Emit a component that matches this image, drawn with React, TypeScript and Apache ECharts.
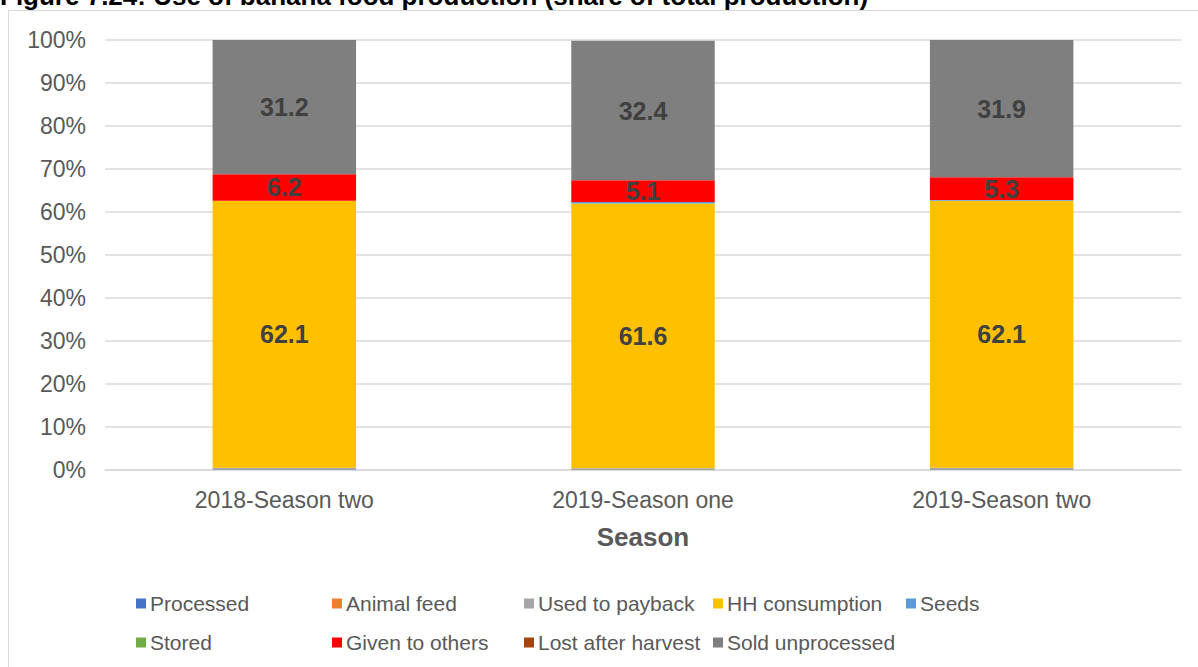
import React, { useEffect, useRef } from "react";
import * as echarts from "echarts";

const categories = ["2018-Season two", "2019-Season one", "2019-Season two"];
const seriesNames = [
  "Processed",
  "Animal feed",
  "Used to payback",
  "HH consumption",
  "Seeds",
  "Stored",
  "Given to others",
  "Lost after harvest",
  "Sold unprocessed",
];
const processed = [0, 0, 0];
const animalFeed = [0, 0, 0];
const usedToPayback = [0.5, 0.4, 0.5];
const hhConsumption = [62.1, 61.6, 62.1];
const seeds = [0, 0.3, 0.2];
const stored = [0, 0, 0];
const givenToOthers = [6.2, 5.1, 5.3];
const lostAfterHarvest = [0, 0, 0];
const soldUnprocessed = [31.2, 32.4, 31.9];
const yTicks = [0, 10, 20, 30, 40, 50, 60, 70, 80, 90, 100];

const seriesValues = [
  processed,
  animalFeed,
  usedToPayback,
  hhConsumption,
  seeds,
  stored,
  givenToOthers,
  lostAfterHarvest,
  soldUnprocessed,
];
const colors = [
  "#4472C4",
  "#ED7D31",
  "#A5A5A5",
  "#FFC000",
  "#5B9BD5",
  "#70AD47",
  "#FF0000",
  "#9E480E",
  "#7F7F7F",
];
const labelled = ["HH consumption", "Given to others", "Sold unprocessed"];

const legendLeft = [136, 332, 524, 713, 906];
const legendTop = [593, 632];

export default function App() {
  const ref = useRef<HTMLDivElement>(null);
  useEffect(() => {
    if (!ref.current) return;
    const chart = echarts.init(ref.current, null, { renderer: "svg" });
    const font = "Arial, 'Liberation Sans', sans-serif";
    const legends = seriesNames.map((name, i) => ({
      data: [name],
      left: legendLeft[i % 5],
      top: legendTop[Math.floor(i / 5)],
      orient: "horizontal",
      icon: "rect",
      itemWidth: 10,
      itemHeight: 10,
      itemGap: 0,
      selectedMode: false,
      padding: 0,
      textStyle: { color: "#595959", fontSize: 21, fontFamily: font, padding: [0, 0, 0, -1] },
    }));
    chart.setOption({
      animation: false,
      color: colors,
      title: {
        text: "Figure 7.24: Use of banana food production (share of total production)",
        left: 0,
        top: -17,
        padding: 0,
        textStyle: { color: "#000", fontSize: 26, fontWeight: "bold", fontFamily: font },
      },
      graphic: [
        {
          type: "rect",
          shape: { x: 8.5, y: 10.5, width: 1200, height: 700 },
          style: { fill: "none", stroke: "#d9d9d9", lineWidth: 1 },
          silent: true,
        },
      ],
      grid: { left: 105, right: 17, top: 40, bottom: 197 },
      legend: legends,
      xAxis: {
        type: "category",
        data: categories,
        name: "Season",
        nameLocation: "middle",
        nameGap: 54,
        nameTextStyle: { color: "#595959", fontSize: 26, fontWeight: "bold", fontFamily: font },
        axisTick: { show: false },
        axisLine: { lineStyle: { color: "#d9d9d9", width: 1.5 } },
        axisLabel: { color: "#595959", fontSize: 23, fontFamily: font, margin: 18 },
      },
      yAxis: {
        type: "value",
        min: yTicks[0],
        max: yTicks[yTicks.length - 1],
        interval: 10,
        axisLine: { show: false },
        axisTick: { show: false },
        splitLine: { lineStyle: { color: "#d9d9d9", width: 1.5 } },
        axisLabel: {
          color: "#595959",
          fontSize: 23,
          fontFamily: font,
          margin: 19,
          formatter: (v: number) => v + "%",
        },
      },
      series: seriesNames.map((name, i) => ({
        name,
        type: "bar",
        stack: "total",
        barWidth: "40%",
        data: seriesValues[i],
        itemStyle: { color: colors[i] },
        label: {
          show: labelled.includes(name),
          position: "inside",
          color: "#404040",
          fontSize: 25,
          fontWeight: "bold",
          fontFamily: font,
          formatter: (p: any) => (p.value ? p.value.toFixed(1) : ""),
        },
      })),
    });
    return () => chart.dispose();
  }, []);
  return (
    <div
      ref={ref}
      style={{ position: "fixed", left: 0, top: 0, width: 1198, height: 667, background: "#fff" }}
    />
  );
}
